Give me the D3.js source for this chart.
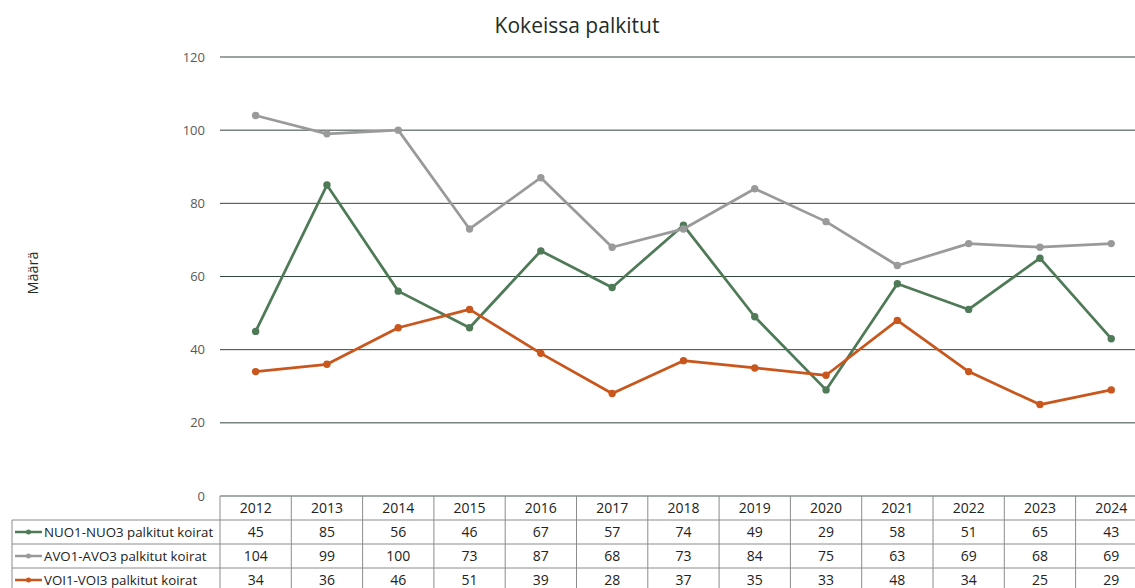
<!DOCTYPE html>
<html>
<head>
<meta charset="utf-8">
<script src="https://cdn.jsdelivr.net/npm/d3@7"></script>
<style>
  body { margin: 0; background: #fff; }
  svg { display: block; font-family: "Open Sans", "Noto Sans", sans-serif; }
</style>
</head>
<body>
<svg width="1135" height="588"></svg>
<script>
const years = ["2012", "2013", "2014", "2015", "2016", "2017", "2018", "2019", "2020", "2021", "2022", "2023", "2024"]
const nuo = [45, 85, 56, 46, 67, 57, 74, 49, 29, 58, 51, 65, 43]
const avo = [104, 99, 100, 73, 87, 68, 73, 84, 75, 63, 69, 68, 69]
const voi = [34, 36, 46, 51, 39, 28, 37, 35, 33, 48, 34, 25, 29]
const seriesNames = ["NUO1-NUO3 palkitut koirat", "AVO1-AVO3 palkitut koirat", "VOI1-VOI3 palkitut koirat"]
const yTicks = [0, 20, 40, 60, 80, 100, 120]

const colors = ["#4f7a57", "#9a9a9a", "#c9561c"]
const series = [nuo, avo, voi].map((values, i) => ({ name: seriesNames[i], values, color: colors[i] }))

const svg = d3.select("svg")
const plotLeft = 220, colW = 71.3, plotTop = 57, plotBottom = 496
const rowH = 24

const x = d3.scaleBand().domain(years).range([plotLeft, plotLeft + colW * years.length])
const y = d3.scaleLinear().domain([0, 120]).range([plotBottom, plotTop])

// title
svg.append("text")
  .attr("x", 577).attr("y", 33)
  .attr("text-anchor", "middle")
  .attr("font-size", 21)
  .attr("fill", "#1f2d26")
  .text("Kokeissa palkitut")

// y axis label
svg.append("text")
  .attr("transform", "translate(38,273) rotate(-90)")
  .attr("text-anchor", "middle")
  .attr("font-size", 14.5)
  .attr("fill", "#1f2d26")
  .text("Määrä")

// gridlines
svg.append("g").selectAll("line")
  .data(yTicks.filter(d => d > 0))
  .join("line")
  .attr("x1", plotLeft).attr("x2", 1135)
  .attr("y1", d => y(d)).attr("y2", d => y(d))
  .attr("stroke", "#34473c")
  .attr("stroke-width", 1)

// y tick labels
svg.append("g").selectAll("text")
  .data(yTicks)
  .join("text")
  .attr("x", 205)
  .attr("y", d => y(d))
  .attr("dy", "0.35em")
  .attr("text-anchor", "end")
  .attr("font-size", 13)
  .attr("fill", "#595959")
  .text(d => d)

// lines
const line = d3.line()
  .x((d, i) => x(years[i]) + x.bandwidth() / 2)
  .y(d => y(d))

series.forEach(s => {
  svg.append("path")
    .datum(s.values)
    .attr("d", line)
    .attr("fill", "none")
    .attr("stroke", s.color)
    .attr("stroke-width", 2.75)
    .attr("stroke-linejoin", "round")
  svg.append("g").selectAll("circle")
    .data(s.values)
    .join("circle")
    .attr("cx", (d, i) => x(years[i]) + x.bandwidth() / 2)
    .attr("cy", d => y(d))
    .attr("r", 3.7)
    .attr("fill", s.color)
})

// data table
const table = svg.append("g")
const border = "#8c8c8c"
const tableRight = plotLeft + colW * years.length

table.append("line")
  .attr("x1", plotLeft).attr("x2", tableRight)
  .attr("y1", plotBottom).attr("y2", plotBottom)
  .attr("stroke", "#4a5a50").attr("stroke-width", 1.2)
for (let r = 1; r <= 3; r++) {
  table.append("line")
    .attr("x1", 12).attr("x2", tableRight)
    .attr("y1", plotBottom + r * rowH).attr("y2", plotBottom + r * rowH)
    .attr("stroke", border)
}
table.append("line")
  .attr("x1", 12).attr("x2", 12)
  .attr("y1", plotBottom + rowH).attr("y2", 588)
  .attr("stroke", border)
table.selectAll(".vline")
  .data(years.concat(["end"]))
  .join("line")
  .attr("x1", (d, i) => plotLeft + i * colW)
  .attr("x2", (d, i) => plotLeft + i * colW)
  .attr("y1", plotBottom).attr("y2", 588)
  .attr("stroke", border)

// header labels
table.selectAll(".yr")
  .data(years)
  .join("text")
  .attr("x", d => x(d) + x.bandwidth() / 2)
  .attr("y", plotBottom + rowH / 2 + 5)
  .attr("text-anchor", "middle")
  .attr("font-size", 14)
  .attr("fill", "#222")
  .text(d => d)

series.forEach((s, r) => {
  const cy = plotBottom + (r + 1) * rowH + rowH / 2
  table.append("line")
    .attr("x1", 15).attr("x2", 42)
    .attr("y1", cy).attr("y2", cy)
    .attr("stroke", s.color).attr("stroke-width", 2.5)
  table.append("circle")
    .attr("cx", 28.5).attr("cy", cy).attr("r", 2.5)
    .attr("fill", s.color)
  table.append("text")
    .attr("x", 44).attr("y", cy + 5)
    .attr("font-size", 13.3)
    .attr("fill", "#222")
    .text(s.name)
  table.append("g").selectAll("text")
    .data(s.values)
    .join("text")
    .attr("x", (d, i) => x(years[i]) + x.bandwidth() / 2)
    .attr("y", cy + 5)
    .attr("text-anchor", "middle")
    .attr("font-size", 14)
    .attr("fill", "#222")
    .text(d => d)
})
</script>
</body>
</html>
